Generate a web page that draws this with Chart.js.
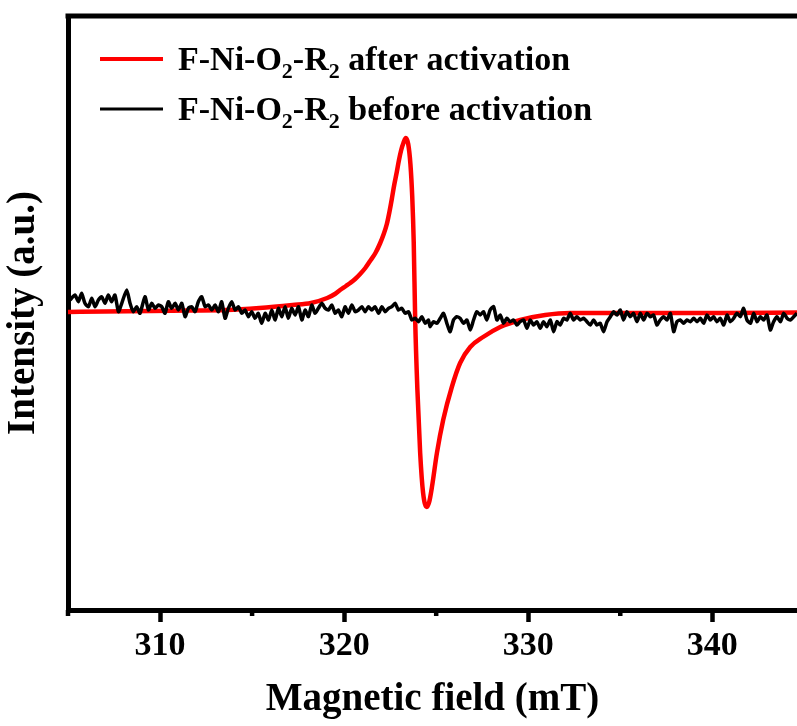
<!DOCTYPE html>
<html>
<head>
<meta charset="utf-8">
<style>
  html, body { margin: 0; padding: 0; background: #ffffff; overflow: hidden; }
  #wrap { width: 797px; height: 726px; }
</style>
<script src="https://cdn.jsdelivr.net/npm/chart.js@4.4.1/dist/chart.umd.min.js"></script>
</head>
<body>
<div id="wrap"><canvas id="epr" width="797" height="726"></canvas></div>
<script>
// EPR spectra: magnetic field (mT) vs. intensity (a.u.)
const redField = [305.0, 307.0, 309.5, 311.5, 313.6, 315.4, 317.2, 318.2, 319.08, 319.5,
  319.78, 320.1, 320.33, 320.6, 320.87, 321.15, 321.41, 321.7, 321.96, 322.15,
  322.32, 322.46, 322.59, 322.72, 322.86, 322.98, 323.1, 323.22, 323.35, 323.48,
  323.6, 323.7, 323.78, 323.86, 323.98, 324.13, 324.29, 324.49, 324.62, 324.77,
  325.04, 325.38, 325.85, 326.30, 326.85, 327.55, 328.48, 329.57, 330.92, 332.28,
  335.0, 340.43, 344.6];
const redIntensity = [0, 0.5, 1, 1.5, 2, 4, 7, 9, 14, 18,
  22, 26, 29, 33, 38, 44, 51, 59, 69, 78,
  88, 100, 113, 127, 140, 152, 162, 169, 174, 168,
  148, 115, 70, -8, -78, -141, -181, -195, -190, -175,
  -141, -108, -75, -51, -35, -25, -15, -8, -3, -1,
  -1, -1, -0.5];

const blackField = [
  305.11, 305.38, 305.56, 305.74, 305.92, 306.11, 306.29, 306.47, 306.65, 306.83,
  307.01, 307.19, 307.37, 307.55, 307.74, 307.92, 308.19, 308.37, 308.55, 308.73,
  308.91, 309.18, 309.37, 309.55, 309.73, 309.91, 310.09, 310.27, 310.45, 310.63,
  310.82, 311.00, 311.18, 311.36, 311.54, 311.72, 311.90, 312.08, 312.26, 312.45,
  312.63, 312.81, 312.99, 313.17, 313.35, 313.53, 313.71, 313.89, 314.08, 314.26,
  314.44, 314.62, 314.80, 314.98, 315.16, 315.34, 315.52, 315.71, 315.89, 316.07,
  316.25, 316.43, 316.61, 316.79, 316.97, 317.15, 317.34, 317.52, 317.70, 317.88,
  318.06, 318.24, 318.42, 318.60, 318.79, 318.97, 319.15, 319.33, 319.51, 319.69,
  319.87, 320.05, 320.23, 320.42, 320.60, 320.78, 320.96, 321.14, 321.32, 321.50,
  321.68, 321.87, 322.05, 322.23, 322.41, 322.59, 322.77, 322.95, 323.13, 323.32,
  323.50, 323.68, 323.86, 324.04, 324.22, 324.40, 324.58,
  324.67, 324.85, 325.04, 325.22, 325.40, 325.58, 325.76, 325.94, 326.12, 326.30,
  326.49, 326.67, 326.85, 327.03, 327.21, 327.39, 327.57, 327.75, 327.93, 328.12,
  328.30, 328.48, 328.66, 328.84, 329.02, 329.20, 329.38, 329.56, 329.75, 329.93,
  330.11, 330.29, 330.47, 330.65, 330.83, 331.01, 331.20, 331.38, 331.56, 331.74,
  331.92, 332.10, 332.28, 332.46, 332.64, 332.83, 333.01, 333.19, 333.37, 333.55,
  333.73, 333.91, 334.09, 334.28, 334.46, 334.64, 334.82, 335.00, 335.18, 335.36,
  335.54, 335.72, 335.91, 336.09, 336.27, 336.45, 336.63, 336.81, 336.99, 337.17,
  337.35, 337.54, 337.72, 337.90, 338.08, 338.26, 338.44, 338.62, 338.80, 338.99,
  339.17, 339.35, 339.53, 339.71, 339.89, 340.07, 340.25, 340.43, 340.62, 340.80,
  340.98, 341.16, 341.34, 341.52, 341.70, 341.88, 342.07, 342.25, 342.43, 342.61,
  342.79, 342.97, 343.15, 343.33, 343.51, 343.70, 343.88, 344.06, 344.24, 344.42,
  344.60];
const blackIntensity = [
  12, 17, 10.3, 18.7, 8.7, 5.3, 13.7, 5.3, 12, 15.3,
  8.7, 17, 10.3, 17, 0.3, 8.7, 22, 8.7, 0.3, 5.3,
  -1.3, 15.3, 2, 8.7, 3.7, 7, 5.3, -1.3, 10.3, 3.7,
  8.7, 2, 8.7, -4.7, 3.7, 5.3, 0.3, 10.3, 15.3, 5.3,
  7, 2, 7, 0.3, 10.3, -6.3, 3.7, 10.3, 2, 5.3,
  -1.3, 2, -4.7, 0.3, -6.3, -1.3, -11.3, -1.3, -8, 2,
  -8, 3.7, -4.7, 5.3, -6.3, 3.7, -3, 5.3, -8, 2,
  -4.7, 7, -1.3, 3.7, 8.7, 3.7, 2, 7, -1.3, 2,
  -4.7, 5.3, -1.3, 7, 0.3, 2, 5.3, 0.3, 5.3, 2,
  5.3, -1.3, 5.3, 0.3, 3.7, 5.3, 8.7, 2, 3.7, -1.3,
  0.3, -8, -6.3, -9.7, -4.7, -11.3, -8,
  -14.7, -9.7, -11.3, -6.3, -1.3, -11.3, -19.7, -8, -4.7, -6.3,
  -11.3, -8, -18, -8, 0.3, -3, 0.3, -8, 2, 5.3,
  -8, -3, -11.3, -6.3, -9.7, -8, -13, -9.7, -8, -16.3,
  -8, -13, -9.7, -16.3, -9.7, -14.7, -8, -19.7, -9.7, -13,
  -6.3, -8, -1.3, -8, -4.7, -8, -6.3, -9.7, -13, -8,
  -13, -11.3, -19.7, -9.7, -4.7, 0.3, -3, 2, -8, 0.3,
  -4.7, -1.3, -9.7, -1.3, -8, -1.3, -4.7, -3, -13, -8,
  -4.7, -8, -1.3, -19.7, -9.7, -8, -11.3, -8, -9.7, -6.3,
  -9.7, -6.3, -11.3, -3, -8, -4.7, -9.7, -6.3, -13, -3,
  -9.7, -6.3, -1.3, -4.7, 3.7, -8, -11.3, -1.3, -9.7, -4.7,
  -8, -3, -18, -9.7, -4.7, -9.7, -1.3, -6.3, -8, -4.7,
  -1.3];

const xMajorTicks = [310, 320, 330, 340];
const xMinorTicks = [305, 315, 325, 335];
const fieldRange = [305, 344.6];
const intensityRange = [-298, 296];

// "_2" marks a subscript digit
const legendLabels = ['F-Ni-O_2-R_2 after activation', 'F-Ni-O_2-R_2 before activation'];
const seriesColors = ['#ff0000', '#000000'];

const FONT = '"Liberation Serif", "Times New Roman", serif';

const toPoints = (xs, ys) => xs.map((x, i) => ({ x: x, y: ys[i] }));

// top frame line and short minor ticks on the field axis
const framePlugin = {
  id: 'frame',
  afterDraw(chart) {
    const { ctx, chartArea, scales } = chart;
    ctx.save();
    ctx.strokeStyle = '#000';
    ctx.lineWidth = 5;
    ctx.beginPath();
    ctx.moveTo(chartArea.left - 2.5, chartArea.top);
    ctx.lineTo(chart.width + 5, chartArea.top);
    ctx.stroke();
    ctx.lineWidth = 4.5;
    xMinorTicks.forEach(v => {
      const px = scales.x.getPixelForValue(v);
      ctx.beginPath();
      ctx.moveTo(px, chartArea.bottom);
      ctx.lineTo(px, chartArea.bottom + 6);
      ctx.stroke();
    });
    ctx.restore();
  }
};

function drawRichText(ctx, text, x, baseline, size) {
  text.split(/(_\d)/).forEach(part => {
    if (!part) return;
    if (part[0] === '_') {
      const s = part.slice(1);
      ctx.font = 'bold ' + Math.round(size * 0.64) + 'px ' + FONT;
      ctx.fillText(s, x, baseline + size * 0.24);
      x += ctx.measureText(s).width;
    } else {
      ctx.font = 'bold ' + size + 'px ' + FONT;
      ctx.fillText(part, x, baseline);
      x += ctx.measureText(part).width;
    }
  });
}

// legend with subscripted formula
const legendPlugin = {
  id: 'formulaLegend',
  afterDraw(chart) {
    const { ctx } = chart;
    ctx.save();
    ctx.fillStyle = '#000';
    ctx.textBaseline = 'alphabetic';
    const widths = [4, 3];
    legendLabels.forEach((label, i) => {
      const y = 59 + i * 50;
      ctx.strokeStyle = seriesColors[i];
      ctx.lineWidth = widths[i];
      ctx.beginPath();
      ctx.moveTo(100, y);
      ctx.lineTo(163, y);
      ctx.stroke();
      drawRichText(ctx, label, 178, y + 11, 34);
    });
    ctx.restore();
  }
};

new Chart(document.getElementById('epr'), {
  type: 'line',
  data: {
    datasets: [
      {
        label: 'F-Ni-O2-R2 before activation',
        data: toPoints(blackField, blackIntensity),
        borderColor: seriesColors[1],
        borderWidth: 3.5,
        pointRadius: 0,
        tension: 0.2,
        order: 0
      },
      {
        label: 'F-Ni-O2-R2 after activation',
        data: toPoints(redField, redIntensity),
        borderColor: seriesColors[0],
        borderWidth: 4.5,
        pointRadius: 0,
        cubicInterpolationMode: 'monotone',
        order: 1
      }
    ]
  },
  options: {
    responsive: false,
    animation: false,
    events: [],
    layout: { padding: { top: 16, left: 0, right: 0, bottom: 0 } },
    plugins: { legend: { display: false }, tooltip: { enabled: false } },
    scales: {
      x: {
        type: 'linear',
        min: fieldRange[0],
        max: fieldRange[1],
        afterBuildTicks(scale) { scale.ticks = xMajorTicks.map(v => ({ value: v })); },
        afterFit(scale) { scale.height = 116; },
        ticks: {
          autoSkip: false,
          maxRotation: 0,
          color: '#000',
          padding: 4,
          font: { family: FONT, weight: 'bold', size: 34 }
        },
        grid: {
          display: true,
          drawOnChartArea: false,
          drawTicks: true,
          tickLength: 12,
          tickWidth: 4.5,
          tickColor: '#000'
        },
        border: { display: true, width: 5, color: '#000' },
        title: {
          display: true,
          text: 'Magnetic field (mT)',
          color: '#000',
          padding: { top: 0, bottom: 3 },
          font: { family: FONT, weight: 'bold', size: 39 }
        }
      },
      y: {
        type: 'linear',
        min: intensityRange[0],
        max: intensityRange[1],
        afterFit(scale) { scale.width = 68; },
        ticks: { display: false },
        grid: { display: false },
        border: { display: true, width: 5, color: '#000' },
        title: {
          display: true,
          text: 'Intensity (a.u.)',
          color: '#000',
          padding: { top: 1, bottom: 0 },
          font: { family: FONT, weight: 'bold', size: 39 }
        }
      }
    }
  },
  plugins: [framePlugin, legendPlugin]
});
</script>
</body>
</html>
